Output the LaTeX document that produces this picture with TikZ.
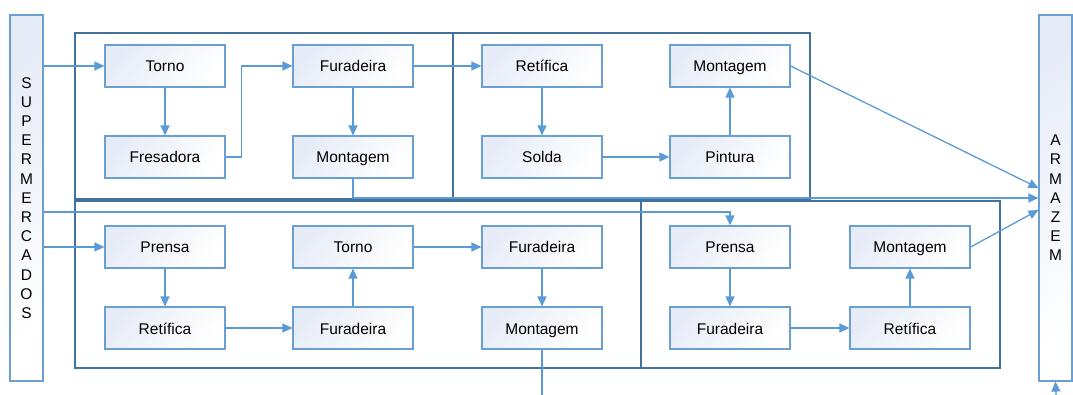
\documentclass[tikz,border=0pt]{standalone}
\usepackage{fontspec}
\setmainfont{Liberation Sans}
\usetikzlibrary{arrows.meta,calc}

\definecolor{edgeblue}{HTML}{5B9BD5}
\definecolor{boxline}{HTML}{6A9FD3}
\definecolor{boxtint}{HTML}{E6ECF7}
\definecolor{framecol}{HTML}{41719C}

\tikzset{
  stage/.style={draw=boxline, line width=1.1pt, top color=boxtint, bottom color=white,
    shading angle=50, minimum width=120pt, minimum height=42pt, inner sep=0pt,
    text height=13pt, text depth=1pt,
    font=\fontsize{15.5}{18}\selectfont},
  sidebar/.style={draw=boxline, line width=1.1pt, top color=boxtint, bottom color=white,
    shading angle=40, minimum width=33pt, minimum height=366pt, inner sep=0pt,
    align=center, font=\fontsize{15.5}{19.2}\selectfont},
  cell/.style={draw=framecol, line width=1.8pt},
  flow/.style={draw=edgeblue, line width=1.3pt, -{Triangle[length=10pt,width=9pt]}},
  flowline/.style={draw=edgeblue, line width=1.3pt},
}

\begin{document}
\begin{tikzpicture}[x=1pt, y=-1pt]
\useasboundingbox (0,0) rectangle (1073,395);

% work cells
\draw[cell] (75,33) rectangle (453,199);
\draw[cell] (453,33) rectangle (810,199);
\draw[cell] (75,201) rectangle (641,368);
\draw[cell] (641,201) rectangle (1000,368);

% side bars
\node[sidebar] (sup) at (26.5,198) {S\\U\\P\\E\\R\\M\\E\\R\\C\\A\\D\\O\\S};
\node[sidebar] (arm) at (1055.5,198) {A\\R\\M\\A\\Z\\E\\M};

% upper left cell
\node[stage] (t1)  at (165,66)  {Torno};
\node[stage] (f1)  at (165,157) {Fresadora};
\node[stage] (fu1) at (353,66)  {Furadeira};
\node[stage] (m1)  at (353,157) {Montagem};

% upper right cell
\node[stage] (r1)  at (542,66)  {Retífica};
\node[stage] (s1)  at (542,157) {Solda};
\node[stage] (m2)  at (730,66)  {Montagem};
\node[stage] (p1)  at (730,157) {Pintura};

% lower left cell
\node[stage] (pr1) at (165,247) {Prensa};
\node[stage] (re1) at (165,328) {Retífica};
\node[stage] (to2) at (353,247) {Torno};
\node[stage] (fu2) at (353,328) {Furadeira};
\node[stage] (fu3) at (542,247) {Furadeira};
\node[stage] (mo3) at (542,328) {Montagem};

% lower right cell
\node[stage] (pr2) at (730,247) {Prensa};
\node[stage] (fu4) at (730,328) {Furadeira};
\node[stage] (mo5) at (910,247) {Montagem};
\node[stage] (re5) at (910,328) {Retífica};

% loose ends at the bottom edge
\coordinate (out3) at (542,395);
\coordinate (in5)  at (1056,395);

% upper flows
\draw[flow] (sup.east |- t1.west) -- (t1.west);
\draw[flow] (t1.south) -- (f1.north);
\draw[flow] (f1.east) -- ++(16,0) |- (fu1.west);
\draw[flow] (fu1.south) -- (m1.north);
\draw[flow] (fu1.east) -- (r1.west);
\draw[flow] (r1.south) -- (s1.north);
\draw[flow] (s1.east) -- (p1.west);
\draw[flow] (p1.north) -- (m2.south);
\draw[flow] (m2.east) -- ($(arm.west)+(0,-10)$);
\draw[flow] (m1.south) |- (arm.west);

% lower flows
\draw[flow] ($(sup.east)+(0,14)$) -| (pr2.north);
\draw[flow] (sup.east |- pr1.west) -- (pr1.west);
\draw[flow] (pr1.south) -- (re1.north);
\draw[flow] (re1.east) -- (fu2.west);
\draw[flow] (fu2.north) -- (to2.south);
\draw[flow] (to2.east) -- (fu3.west);
\draw[flow] (fu3.south) -- (mo3.north);
\draw[flowline] (mo3.south) -- (out3);
\draw[flow] (pr2.south) -- (fu4.north);
\draw[flow] (fu4.east) -- (re5.west);
\draw[flow] (re5.north) -- (mo5.south);
\draw[flow] (mo5.east) -- ($(arm.west)+(0,12)$);
\draw[flow] (in5) -- (arm.south);
\end{tikzpicture}
\end{document}
